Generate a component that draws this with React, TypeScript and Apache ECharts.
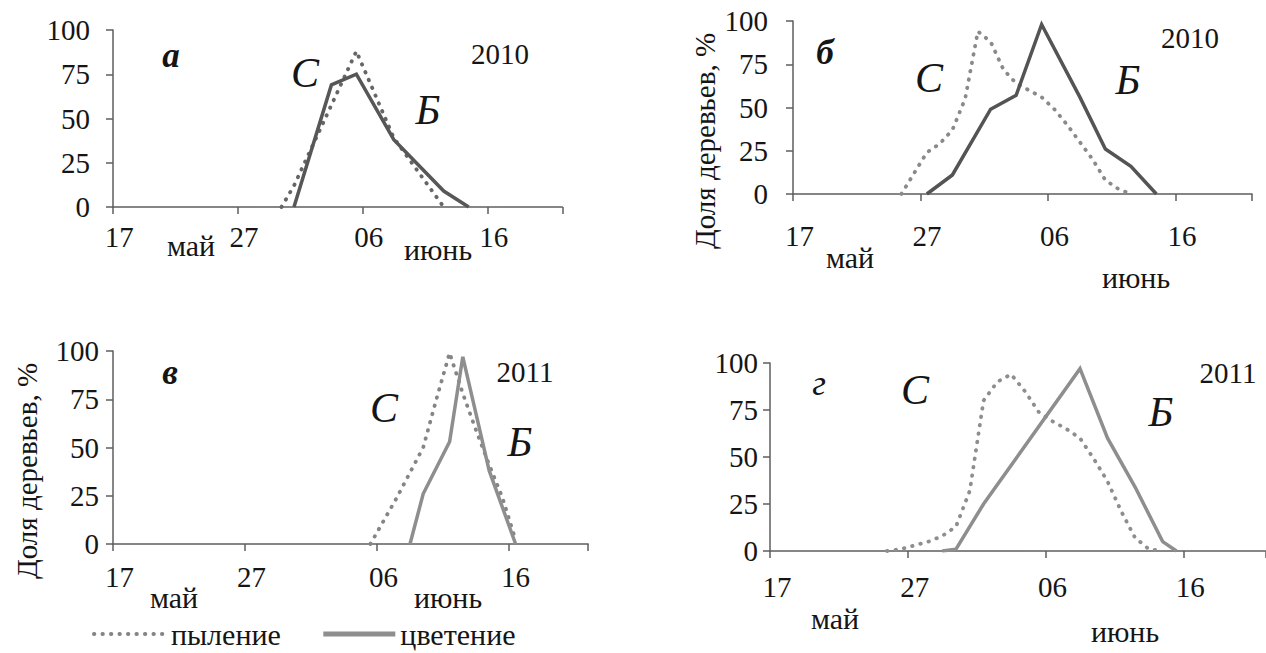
import React, { useEffect, useRef } from "react";
import * as echarts from "echarts";

// Categories: days from 17 May to 21 June
const days = [
  "05-17", "05-18", "05-19", "05-20", "05-21", "05-22", "05-23", "05-24", "05-25", "05-26",
  "05-27", "05-28", "05-29", "05-30", "05-31", "06-01", "06-02", "06-03", "06-04", "06-05",
  "06-06", "06-07", "06-08", "06-09", "06-10", "06-11", "06-12", "06-13", "06-14", "06-15",
  "06-16", "06-17", "06-18", "06-19", "06-20", "06-21",
];
const yTicks = [0, 25, 50, 75, 100];

// а) 2010
const pylA = [["05-30", 0], ["05-31", 12], ["06-05", 88], ["06-08", 39], ["06-12", 0]];
const cvetA = [["05-31", 0], ["06-03", 69], ["06-05", 75], ["06-08", 38], ["06-12", 9], ["06-14", 0]];
// б) 2010
const pylB = [
  ["05-25", 0], ["05-26", 12], ["05-27", 24], ["05-28", 29], ["05-29", 37], ["05-30", 55],
  ["05-31", 94], ["06-01", 88], ["06-02", 72], ["06-03", 64], ["06-04", 60], ["06-05", 56],
  ["06-06", 49], ["06-07", 40], ["06-08", 30], ["06-09", 20], ["06-10", 8], ["06-11", 3], ["06-12", 0],
];
const cvetB = [
  ["05-27", 0], ["05-29", 11], ["06-01", 49], ["06-03", 57], ["06-05", 98], ["06-08", 56],
  ["06-10", 26], ["06-12", 16], ["06-14", 0],
];
// в) 2011
const pylC = [
  ["06-05", 0], ["06-06", 12], ["06-07", 24], ["06-08", 37], ["06-09", 50], ["06-10", 75],
  ["06-11", 99], ["06-12", 78], ["06-13", 59], ["06-14", 41], ["06-15", 24], ["06-16", 2],
];
const cvetC = [["06-08", 0], ["06-09", 26], ["06-11", 53], ["06-12", 97], ["06-14", 38], ["06-16", 0]];
// г) 2011
const pylD = [
  ["05-25", 0], ["05-26", 1], ["05-27", 3], ["05-28", 5], ["05-29", 8], ["05-30", 13],
  ["05-31", 32], ["06-01", 80], ["06-02", 90], ["06-03", 94], ["06-04", 85], ["06-05", 74],
  ["06-06", 69], ["06-07", 65], ["06-08", 60], ["06-09", 49], ["06-10", 37], ["06-11", 21],
  ["06-12", 7], ["06-13", 1], ["06-14", 0],
];
const cvetD = [
  ["05-29", 0], ["05-30", 1], ["06-01", 25], ["06-08", 97], ["06-10", 60], ["06-12", 34],
  ["06-14", 5], ["06-15", 0],
];

const legendNames = ["пыление", "цветение"];
const yTitle = "Доля деревьев, %";

const FONT = "Liberation Serif";
const AXIS = "#5e5e5e";
const TXT = "#151515";

export default function App() {
  const ref = useRef<HTMLDivElement>(null);
  useEffect(() => {
    if (!ref.current) return;
    const chart = echarts.init(ref.current, null, { renderer: "svg" });

    const grids = [
      { left: 113, top: 30, width: days.length * 12.48, height: 177 },
      { left: 793, top: 21, width: days.length * 12.75, height: 173 },
      { left: 113, top: 351, width: days.length * 13.2, height: 193 },
      { left: 770, top: 363, width: days.length * 13.95, height: 188 },
    ];
    const xMargins = [15, 27, 18, 21];
    const yMargins = [23, 25, 14, 12];

    const xAxes = grids.map((g, i) => ({
      type: "category",
      gridIndex: i,
      data: days,
      boundaryGap: true,
      axisLine: { lineStyle: { color: AXIS, width: 1.5 } },
      axisTick: { show: true, interval: 9, length: 7, lineStyle: { color: AXIS, width: 1.5 } },
      axisLabel: {
        interval: 9,
        margin: xMargins[i],
        fontSize: 29,
        fontFamily: FONT,
        color: TXT,
        formatter: (v: string) => v.slice(3),
      },
      splitLine: { show: false },
    }));
    const yAxes = grids.map((g, i) => ({
      type: "value",
      gridIndex: i,
      min: yTicks[0],
      max: yTicks[yTicks.length - 1],
      interval: 25,
      axisLine: { show: true, lineStyle: { color: AXIS, width: 1.5 } },
      axisTick: { show: true, length: 7, lineStyle: { color: AXIS, width: 1.5 } },
      axisLabel: { margin: yMargins[i], fontSize: 29, fontFamily: FONT, color: TXT },
      splitLine: { show: false },
    }));

    const dotted = (color: string) => ({ color, width: 3.8, type: [0.5, 8], cap: "round" });
    const solid = (color: string) => ({ color, width: 3.5, type: "solid", join: "miter" });

    const mk = (name: string, data: any[], idx: number, ls: any) => ({
      type: "line",
      name,
      xAxisIndex: idx,
      yAxisIndex: idx,
      data,
      symbol: "none",
      showSymbol: false,
      lineStyle: ls,
      itemStyle: { color: ls.color },
      silent: true,
    });

    const series = [
      mk(legendNames[0], pylC, 2, dotted("#858585")),
      mk(legendNames[1], cvetC, 2, solid("#8e8e8e")),
      mk(legendNames[0], pylA, 0, dotted("#666666")),
      mk(legendNames[1], cvetA, 0, solid("#575757")),
      mk(legendNames[0], pylB, 1, dotted("#8a8a8a")),
      mk(legendNames[1], cvetB, 1, solid("#545454")),
      mk(legendNames[0], pylD, 3, dotted("#8e8e8e")),
      mk(legendNames[1], cvetD, 3, solid("#8e8e8e")),
    ];

    const t = (text: string, x: number, y: number, size: number, extra: any = {}, rotation = 0) => ({
      type: "text",
      x,
      y,
      rotation,
      silent: true,
      style: {
        text,
        fontSize: size,
        fontFamily: FONT,
        fill: TXT,
        align: "center",
        verticalAlign: "middle",
        ...extra,
      },
    });
    const bi = { fontStyle: "italic", fontWeight: "bold" };
    const it = { fontStyle: "italic" };

    const graphic = [
      // axis titles
      t(yTitle, 705, 141, 29, {}, Math.PI / 2),
      t(yTitle, 27, 471, 29, {}, Math.PI / 2),
      // panel a
      t("а", 171, 55, 35, bi),
      t("С", 305, 73, 42, it),
      t("Б", 428, 110, 42, it),
      t("2010", 500, 54, 29),
      t("май", 191, 245, 30),
      t("июнь", 438, 249, 30),
      // panel b
      t("б", 825, 52, 35, bi),
      t("С", 929, 78, 42, it),
      t("Б", 1128, 80, 42, it),
      t("2010", 1190, 38, 29),
      t("май", 850, 257, 30),
      t("июнь", 1136, 277, 30),
      // panel c
      t("в", 170, 372, 35, bi),
      t("С", 384, 408, 42, it),
      t("Б", 520, 442, 42, it),
      t("2011", 525, 372, 29),
      t("май", 174, 597, 30),
      t("июнь", 448, 597, 30),
      // panel d
      t("г", 819, 383, 35, it),
      t("С", 915, 390, 42, it),
      t("Б", 1161, 412, 42, it),
      t("2011", 1228, 373, 29),
      t("май", 835, 618, 30),
      t("июнь", 1125, 631, 30),
    ];

    chart.setOption({
      animation: false,
      backgroundColor: "#ffffff",
      grid: grids,
      xAxis: xAxes,
      yAxis: yAxes,
      series,
      legend: {
        data: [
          { name: legendNames[0], lineStyle: { width: 3.8 } },
          { name: legendNames[1], lineStyle: { width: 5 } },
        ],
        left: 87,
        top: 614,
        itemWidth: 72,
        itemHeight: 14,
        itemGap: 40,
        itemStyle: { opacity: 0 },
        textStyle: { fontSize: 30, fontFamily: FONT, color: TXT },
        selectedMode: false,
      },
      graphic,
    });
    return () => chart.dispose();
  }, []);

  return (
    <div
      ref={ref}
      style={{ position: "fixed", left: 0, top: 0, width: 1266, height: 653, background: "#fff" }}
    />
  );
}
